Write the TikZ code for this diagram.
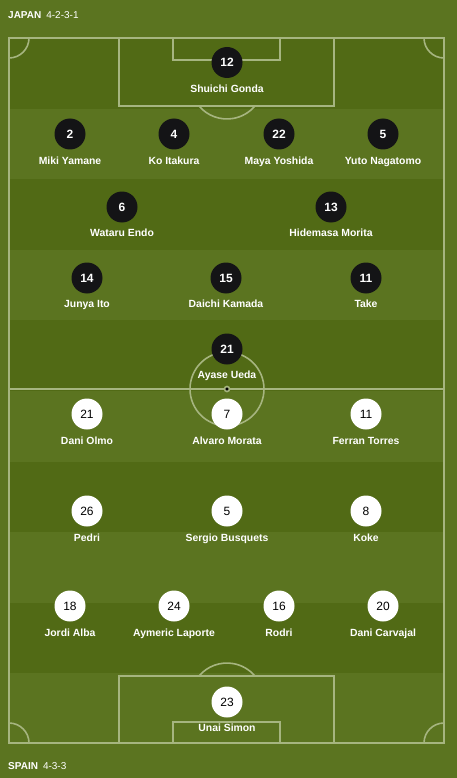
\documentclass[tikz,border=0pt]{standalone}
\usepackage{fontspec}
\setmainfont{Liberation Sans}
\usepackage{tikz}
\usepackage{xcolor}
\definecolor{grasslight}{RGB}{91,116,32}
\definecolor{grassdark}{RGB}{81,106,21}
\definecolor{chalk}{RGB}{166,181,128}
\definecolor{jpnshirt}{RGB}{20,20,22}

\begin{document}
\begin{tikzpicture}[x=1pt,y=-1pt,
    chalk/.style={draw=chalk,line width=1.6pt},
    jpn/.style={circle,fill=jpnshirt,text=white,minimum size=31pt,inner sep=0pt,
        font=\bfseries\fontsize{12}{12}\selectfont},
    esp/.style={circle,fill=white,text=black,minimum size=31pt,inner sep=0pt,
        font=\fontsize{12}{12}\selectfont},
    plname/.style={text=white,anchor=base,inner sep=0pt,
        font=\bfseries\fontsize{10.4}{10.4}\selectfont},
    teamlabel/.style={text=white,anchor=base west,inner sep=0pt,
        font=\fontsize{10}{10}\selectfont}]
    \useasboundingbox (0,0) rectangle (457,778);

    % Grass
    \fill[grasslight] (0,0) rectangle (457,778);
    \fill[grassdark] (9,38) rectangle (444,108.6);
    \fill[grassdark] (9,179.2) rectangle (444,249.8);
    \fill[grassdark] (9,320.4) rectangle (444,391);
    \fill[grassdark] (9,461.6) rectangle (444,532.2);
    \fill[grassdark] (9,602.8) rectangle (444,673.4);

    % Pitch markings
    \draw[chalk] (9,38) rectangle (444,743);
    \draw[chalk] (9,389) to (444,389);
    \draw[chalk] (227,389) circle [radius=37];
    \fill[chalk] (227,389) circle [radius=2.5];
    \draw[chalk] (119,38) rectangle (334,106);
    \draw[chalk] (173,38) rectangle (280,60);
    \draw[chalk] (199,106) arc [start angle=139.8,end angle=40.2,radius=36.6];
    \draw[chalk] (119,676) rectangle (334,743);
    \draw[chalk] (173,722) rectangle (280,743);
    \draw[chalk] (199,676) arc [start angle=220.2,end angle=319.8,radius=36.6];
    \draw[chalk] (29,38) arc [start angle=0,end angle=90,radius=20];
    \draw[chalk] (424,38) arc [start angle=180,end angle=90,radius=20];
    \draw[chalk] (29,743) arc [start angle=0,end angle=-90,radius=20];
    \draw[chalk] (424,743) arc [start angle=180,end angle=270,radius=20];

    % Team labels
    \node[teamlabel] (japan) at (8,19) {\textbf{JAPAN}\hspace{5pt}4-2-3-1};
    \node[teamlabel] (spain) at (8,769) {\textbf{SPAIN}\hspace{5pt}4-3-3};

    % Japan
    \node[jpn] (j12) at (227,62.5) {12};
    \node[plname] (j12n) at (227,92.6) {Shuichi Gonda};
    \node[jpn] (j2) at (70,134) {2};
    \node[plname] (j2n) at (70,164.5) {Miki Yamane};
    \node[jpn] (j4) at (174,134) {4};
    \node[plname] (j4n) at (174,164.5) {Ko Itakura};
    \node[jpn] (j22) at (279,134) {22};
    \node[plname] (j22n) at (279,164.5) {Maya Yoshida};
    \node[jpn] (j5) at (383,134) {5};
    \node[plname] (j5n) at (383,164.5) {Yuto Nagatomo};
    \node[jpn] (j6) at (122,207) {6};
    \node[plname] (j6n) at (122,236.6) {Wataru Endo};
    \node[jpn] (j13) at (331,207) {13};
    \node[plname] (j13n) at (331,236.6) {Hidemasa Morita};
    \node[jpn] (j14) at (87,278) {14};
    \node[plname] (j14n) at (87,307.5) {Junya Ito};
    \node[jpn] (j15) at (226,278) {15};
    \node[plname] (j15n) at (226,307.5) {Daichi Kamada};
    \node[jpn] (j11) at (366,278) {11};
    \node[plname] (j11n) at (366,307.5) {Take};
    \node[jpn] (j21) at (227,349) {21};
    \node[plname] (j21n) at (227,378.8) {Ayase Ueda};

    % Spain
    \node[esp] (e21) at (87,414) {21};
    \node[plname] (e21n) at (87,444.5) {Dani Olmo};
    \node[esp] (e7) at (227,414) {7};
    \node[plname] (e7n) at (227,444.5) {Alvaro Morata};
    \node[esp] (e11) at (366,414) {11};
    \node[plname] (e11n) at (366,444.5) {Ferran Torres};
    \node[esp] (e26) at (87,511) {26};
    \node[plname] (e26n) at (87,541) {Pedri};
    \node[esp] (e5) at (227,511) {5};
    \node[plname] (e5n) at (227,541) {Sergio Busquets};
    \node[esp] (e8) at (366,511) {8};
    \node[plname] (e8n) at (366,541) {Koke};
    \node[esp] (e18) at (70,606) {18};
    \node[plname] (e18n) at (70,636) {Jordi Alba};
    \node[esp] (e24) at (174,606) {24};
    \node[plname] (e24n) at (174,636) {Aymeric Laporte};
    \node[esp] (e16) at (279,606) {16};
    \node[plname] (e16n) at (279,636) {Rodri};
    \node[esp] (e20) at (383,606) {20};
    \node[plname] (e20n) at (383,636) {Dani Carvajal};
    \node[esp] (e23) at (227,702) {23};
    \node[plname] (e23n) at (227,731.7) {Unai Simon};
\end{tikzpicture}
\end{document}
